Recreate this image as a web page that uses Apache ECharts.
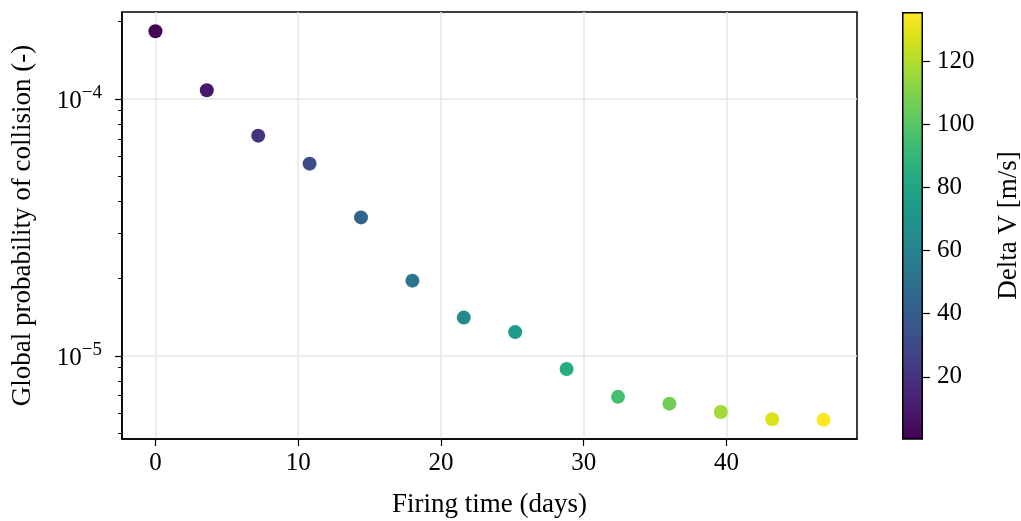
<!DOCTYPE html>
<html>
<head>
<meta charset="utf-8">
<script src="https://cdn.jsdelivr.net/npm/echarts@6/dist/echarts.min.js"></script>
<style>html,body{margin:0;padding:0;background:#fff;}#c{width:1021px;height:521px;}</style>
</head>
<body>
<div id="c"></div>
<script>
// ---- data ----
const firingTime = [0, 3.6, 7.2, 10.8, 14.4, 18.0, 21.6, 25.2, 28.8, 32.4, 36.0, 39.6, 43.2, 46.8];
const probCollision = [1.834e-4, 1.081e-4, 7.20e-5, 5.60e-5, 3.46e-5, 1.963e-5, 1.41e-5, 1.238e-5, 8.90e-6, 6.93e-6, 6.52e-6, 6.05e-6, 5.67e-6, 5.64e-6];
const deltaV = [0.3, 9, 20, 31, 44, 53, 64, 73, 84, 95, 106, 117, 128, 135.5];
const xTicks = [0, 10, 20, 30, 40];
const yMajorTicks = [1e-5, 1e-4];
const yMinorTicks = [5e-6, 6e-6, 7e-6, 8e-6, 9e-6, 2e-5, 3e-5, 4e-5, 5e-5, 6e-5, 7e-5, 8e-5, 9e-5, 2e-4];
const cbTicks = [20, 40, 60, 80, 100, 120];
const viridis = ['#440154','#471365','#482475','#463480','#414487','#3b528b','#355f8d','#2f6c8e','#2a788e','#25848e','#21918c','#1e9c89','#22a884','#2fb47c','#44bf70','#5ec962','#7ad151','#9bd93c','#bddf26','#dfe318','#fde725'];

const FONT = '"Liberation Serif", "Times New Roman", serif';
const points = firingTime.map((t, i) => [t, probCollision[i], deltaV[i]]);
const dvMin = 0.3, dvMax = 135.5;

const chart = echarts.init(document.getElementById('c'), null, {renderer: 'canvas'});
const stops = viridis.map((c, i) => ({offset: i / (viridis.length - 1), color: c}));

const option = {
  animation: false,
  backgroundColor: '#fff',
  textStyle: {fontFamily: FONT, color: '#000'},
  grid: [
    {left: 122, top: 12, width: 735, height: 427, show: true, borderColor: '#000', borderWidth: 1.5, backgroundColor: 'transparent', containLabel: false, outerBoundsMode: 'none'},
    {left: 902, top: 12, width: 21, height: 427, show: false, containLabel: false, outerBoundsMode: 'none'}
  ],
  xAxis: [
    {
      type: 'value', gridIndex: 0, min: -2.34, max: 49.14,
      axisLine: {show: true, onZero: false, lineStyle: {color: '#000', width: 1.5}},
      axisTick: {show: true, inside: false, length: 7, customValues: xTicks, lineStyle: {color: '#000', width: 1.2}},
      axisLabel: {customValues: xTicks, fontSize: 25, fontFamily: FONT, color: '#000', margin: 12},
      splitLine: {show: true, lineStyle: {color: '#e6e6e6', width: 1.5}},
      name: 'Firing time (days)', nameLocation: 'middle', nameGap: 52,
      nameTextStyle: {fontSize: 27, fontFamily: FONT, color: '#000'}
    },
    {
      type: 'category', gridIndex: 1, data: ['cb'], boundaryGap: true,
      axisLine: {show: false, onZero: false}, axisTick: {show: false}, axisLabel: {show: false}, splitLine: {show: false}
    }
  ],
  yAxis: [
    {
      type: 'log', logBase: 10, gridIndex: 0, min: 4.75e-6, max: 2.18e-4,
      axisLine: {show: true, onZero: false, lineStyle: {color: '#000', width: 1.5}},
      axisTick: {show: true, inside: false, length: 7, customValues: yMajorTicks, lineStyle: {color: '#000', width: 1.2}},
      axisLabel: {
        customValues: yMajorTicks, margin: 20, color: '#000', fontFamily: FONT,
        formatter: function (v) {
          const e = Math.round(Math.log10(v));
          return '{b|10}{s|' + (e < 0 ? '\u2212' + (-e) : e) + '}';
        },
        rich: {
          b: {fontSize: 25, fontFamily: FONT, color: '#000', verticalAlign: 'bottom', lineHeight: 30},
          s: {fontSize: 19, fontFamily: FONT, color: '#000', verticalAlign: 'top', lineHeight: 30}
        }
      },
      splitLine: {show: true, lineStyle: {color: '#e6e6e6', width: 1.5}},
      name: 'Global probability of collision (-)', nameLocation: 'middle', nameGap: 86, nameRotate: 90,
      nameTextStyle: {fontSize: 27, fontFamily: FONT, color: '#000'}
    },
    {
      type: 'log', logBase: 10, gridIndex: 0, min: 4.75e-6, max: 2.18e-4, position: 'left',
      axisLine: {show: false, onZero: false},
      axisTick: {show: true, inside: false, length: 4, customValues: yMinorTicks, lineStyle: {color: '#000', width: 1}},
      axisLabel: {show: false},
      splitLine: {show: false}
    },
    {
      type: 'value', gridIndex: 1, min: dvMin, max: dvMax, position: 'right',
      axisLine: {show: false, onZero: false},
      axisTick: {show: true, inside: false, length: 7, customValues: cbTicks, lineStyle: {color: '#000', width: 1.2}},
      axisLabel: {customValues: cbTicks, fontSize: 25, fontFamily: FONT, color: '#000', margin: 14},
      splitLine: {show: false},
      name: 'Delta V [m/s]', nameLocation: 'middle', nameGap: 72, nameRotate: 90,
      nameTextStyle: {fontSize: 27, fontFamily: FONT, color: '#000'}
    }
  ],
  visualMap: {
    show: false, type: 'continuous', min: dvMin, max: dvMax, dimension: 2, seriesIndex: 0,
    inRange: {color: viridis}
  },
  series: [
    {
      type: 'scatter', xAxisIndex: 0, yAxisIndex: 0, data: points, symbolSize: 14,
      itemStyle: {opacity: 1}, z: 5
    },
    {
      type: 'bar', xAxisIndex: 1, yAxisIndex: 2, data: [dvMax], barWidth: 21, barCategoryGap: 0,
      itemStyle: {color: new echarts.graphic.LinearGradient(0, 1, 0, 0, stops), borderColor: '#000', borderWidth: 1.5},
      silent: true
    }
  ]
};
chart.setOption(option);
</script>
</body>
</html>
